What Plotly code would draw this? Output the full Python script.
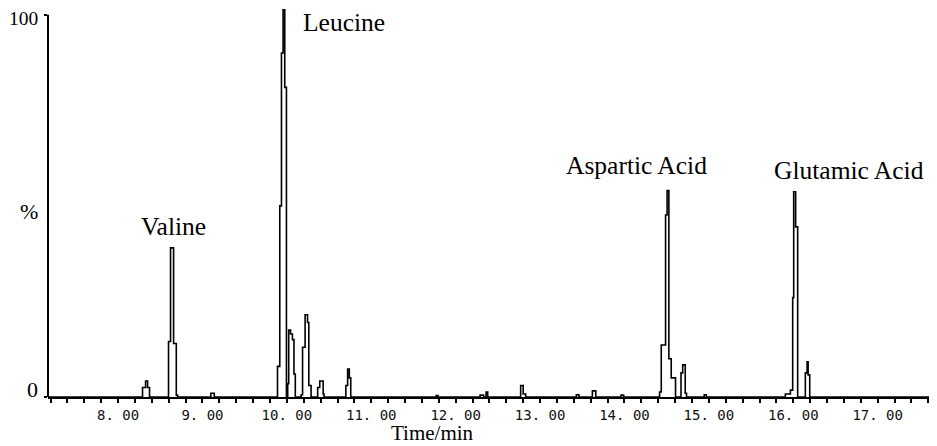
import plotly.graph_objects as go

# Chromatogram as a step trace (value holds from each time until the next)
time_min = [
    7.17,
    8.29, 8.326, 8.35, 8.373,
    8.598, 8.622, 8.658, 8.69, 8.705,
    9.10, 9.14,
    9.889, 9.916, 9.936, 9.955, 9.975, 9.995,
    10.01, 10.022, 10.044, 10.066, 10.084, 10.10,
    10.17, 10.186, 10.216, 10.245, 10.26, 10.287,
    10.365, 10.39, 10.43, 10.44,
    10.699, 10.72, 10.74, 10.757,
    11.77, 11.79,
    12.29, 12.33, 12.36, 12.38,
    12.77, 12.80, 12.83,
    13.43, 13.46,
    13.62, 13.66,
    13.96, 13.99,
    14.416, 14.436, 14.487, 14.505, 14.526, 14.554, 14.605,
    14.67, 14.69, 14.72, 14.735,
    14.945, 14.97,
    15.906, 15.966, 15.993, 16.005, 16.028, 16.052,
    16.143, 16.164, 16.176, 16.195,
    17.62,
]
intensity = [
    0,
    2.5, 4.2, 2.5, 0,
    14.5, 39, 14, 0.5, 0,
    1.0, 0,
    8, 50, 90, 101.5, 81, 0,
    3.5, 17.5, 16.5, 15, 6, 0,
    0.6, 13, 21.5, 19.5, 3, 0,
    2.5, 4.2, 0.8, 0,
    3, 7.3, 5, 0,
    0.4, 0,
    0.5, 0, 1.3, 0,
    3, 0.8, 0,
    0.6, 0,
    1.6, 0,
    0.5, 0,
    1.3, 13.6, 47.6, 54, 10, 5, 0,
    6.3, 8.4, 1, 0,
    0.6, 0,
    0.8, 1.8, 26, 53.7, 44.5, 0,
    6.3, 9.2, 5.8, 0,
    0,
]

tick_values = [8, 9, 10, 11, 12, 13, 14, 15, 16, 17]
tick_labels = ["8. 00", "9. 00", "10. 00", "11. 00", "12. 00", "13. 00",
               "14. 00", "15. 00", "16. 00", "17. 00"]

peak_names = ["Valine", "Leucine", "Aspartic Acid", "Glutamic Acid"]
peak_label_x = [8.66, 10.674, 14.144, 16.656]
peak_label_y = [44.5, 98.0, 60.5, 59.2]

y_labels = ["100", "%", "0"]
y_label_pos = [99.1, 48.6, 1.9]
y_label_size = [19.5, 22, 22]

serif = "Liberation Serif, Times New Roman, serif"

fig = go.Figure()
fig.add_trace(go.Scatter(
    x=time_min, y=intensity, mode="lines",
    line=dict(color="black", width=1.6, shape="hv"),
    hoverinfo="skip", showlegend=False,
))

for name, px_, py_ in zip(peak_names, peak_label_x, peak_label_y):
    fig.add_annotation(x=px_, y=py_, xref="x", yref="y", text=name,
                       showarrow=False, xanchor="center", yanchor="middle",
                       font=dict(family=serif, size=25.5, color="black"))

for txt, py_, fs in zip(y_labels, y_label_pos, y_label_size):
    fig.add_annotation(x=0, y=py_, xref="paper", yref="y", text=txt,
                       showarrow=False, xanchor="right", yanchor="middle",
                       xshift=-8, font=dict(family=serif, size=fs, color="black"))

fig.add_annotation(x=0.436, y=0, xref="paper", yref="paper", text="Time/min",
                   showarrow=False, xanchor="center", yanchor="middle",
                   yshift=-36, font=dict(family=serif, size=21, color="black"))

# y axis line from 0 to 100
fig.add_shape(type="line", xref="paper", yref="y", x0=0, x1=0, y0=0, y1=100,
              line=dict(color="black", width=2))

# page body has an 8px margin, so the figure is offset by 8px
fig.update_layout(
    width=929, height=438,
    margin=dict(l=40, r=7, t=1, b=49),
    paper_bgcolor="white", plot_bgcolor="white",
    xaxis=dict(
        range=[7.17, 17.62], showgrid=False, zeroline=False,
        showline=True, linecolor="black", linewidth=2,
        tickmode="array", tickvals=tick_values, ticktext=tick_labels,
        ticks="outside", ticklen=4, tickwidth=1.5, tickcolor="black",
        tickfont=dict(family="DejaVu Sans Mono", size=14, color="#111"),
        minor=dict(tick0=7.2, dtick=0.2, ticks="outside", ticklen=4,
                   tickwidth=1.5, tickcolor="black", showgrid=False),
    ),
    yaxis=dict(
        range=[0, 101.5], showgrid=False, zeroline=False, showline=False,
        tickmode="array", tickvals=[0, 100], ticktext=["", ""],
        ticks="outside", ticklen=3, tickwidth=1.5, tickcolor="black",
    ),
)

fig.write_html("out.html")
